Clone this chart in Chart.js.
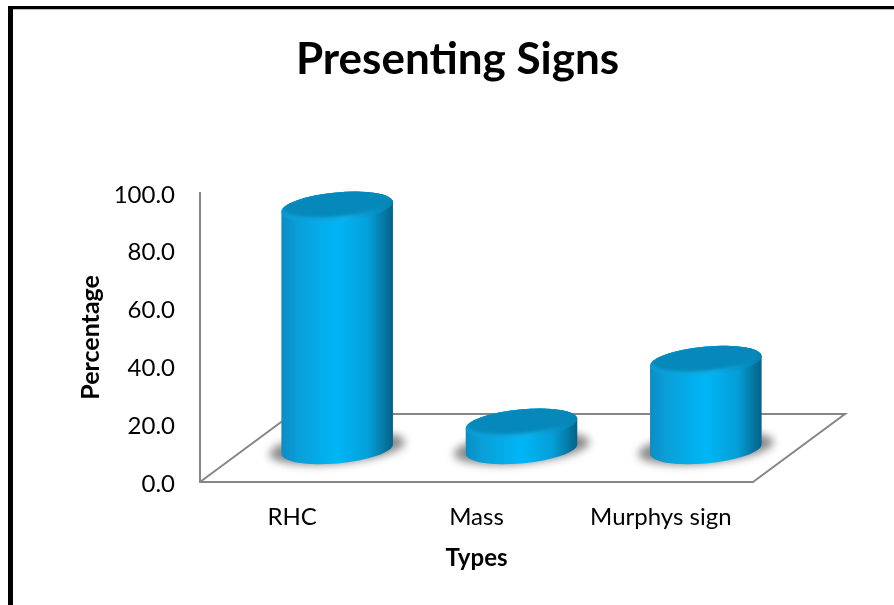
<!DOCTYPE html>
<html>
<head>
<meta charset="utf-8">
<title>Presenting Signs</title>
<script src="https://cdn.jsdelivr.net/npm/chart.js@4"></script>
<style>
  html, body { margin: 0; padding: 0; background: #fff; }
  #frame {
    position: absolute; left: 8px; top: 6px; right: 0; bottom: 0;
    border-left: 5px solid #000; border-top: 3px solid #000;
    box-shadow: inset 0 1px 0 #bbb;
  }
  #chart { position: absolute; left: 0; top: 0; }
</style>
</head>
<body>
<div id="frame"></div>
<canvas id="chart" width="894" height="605"></canvas>
<script>
const categories = ['RHC', 'Mass', 'Murphys sign'];
const percentages = [83.7, 8.7, 30.4];
const yTicks = [0, 20, 40, 60, 80, 100];

const AXIS_COLOR = '#868686';
const FONT = 'Lato, "Open Sans", sans-serif';

// Floor depth of the pseudo-3D plot, in pixels
const FLOOR_DX = 92;
const FLOOR_DY = 68;
// Where a cylinder's base sits relative to its category tick
const BASE_DX = 45;
const BASE_DY = 33;

const ELLIPSE_RY = 14.5;
const ELLIPSE_ROT = -5.3 * Math.PI / 180;
const TANGENT = 0.0225;

function ellipsePath(ctx, cx, cy, rx, ry) {
  ctx.beginPath();
  ctx.ellipse(cx, cy, rx, ry, ELLIPSE_ROT, 0, Math.PI * 2);
}

function drawShadow(ctx, cx, baseY, rx) {
  ctx.save();
  ctx.filter = 'blur(4px)';
  ctx.fillStyle = '#8a8a8a';
  ellipsePath(ctx, cx, baseY - 1, rx + 11, ELLIPSE_RY + 1);
  ctx.fill();
  ctx.restore();
}

function drawCylinder(ctx, cx, topY, baseY, rx) {
  // Body, shaded from side to side
  const side = ctx.createLinearGradient(cx - rx, 0, cx + rx, 0);
  side.addColorStop(0, '#0c8cc2');
  side.addColorStop(0.15, '#0a9fd9');
  side.addColorStop(0.5, '#00b6f7');
  side.addColorStop(0.78, '#049fd8');
  side.addColorStop(0.93, '#05759f');
  side.addColorStop(1, '#05628a');
  ctx.fillStyle = side;
  ctx.beginPath();
  ctx.ellipse(cx, baseY, rx, ELLIPSE_RY, ELLIPSE_ROT, TANGENT, Math.PI + TANGENT);
  ctx.ellipse(cx, topY, rx, ELLIPSE_RY, ELLIPSE_ROT, Math.PI + TANGENT, TANGENT);
  ctx.closePath();
  ctx.fill();

  // Cap with a bevelled rim
  const rim = ctx.createLinearGradient(cx - rx, 0, cx + rx, 0);
  rim.addColorStop(0, '#0a9ad4');
  rim.addColorStop(0.55, '#0cb0ec');
  rim.addColorStop(1, '#0680ae');
  ctx.save();
  ellipsePath(ctx, cx, topY, rx, ELLIPSE_RY);
  ctx.fillStyle = rim;
  ctx.fill();
  ctx.clip();
  ctx.filter = 'blur(1.5px)';
  ctx.fillStyle = '#0689ba';
  ellipsePath(ctx, cx, topY - 3.5, rx - 1.5, ELLIPSE_RY - 1.5);
  ctx.fill();
  ctx.restore();
}

const cylinderPlugin = {
  id: 'cylinders',
  beforeDatasetsDraw(chart) {
    const { ctx, chartArea: area } = chart;
    ctx.save();
    ctx.strokeStyle = AXIS_COLOR;
    ctx.lineWidth = 2;
    ctx.beginPath();
    ctx.moveTo(area.left, area.bottom);
    ctx.lineTo(area.left + FLOOR_DX, area.bottom - FLOOR_DY);
    ctx.lineTo(area.right + FLOOR_DX, area.bottom - FLOOR_DY);
    ctx.lineTo(area.right, area.bottom);
    ctx.stroke();
    ctx.restore();
  },
  afterDatasetsDraw(chart) {
    const { ctx } = chart;
    const bars = chart.getDatasetMeta(0).data;
    bars.forEach(bar => drawShadow(ctx, bar.x + BASE_DX, bar.base - BASE_DY, bar.width / 2 + 1));
    bars.forEach(bar => {
      drawCylinder(ctx, bar.x + BASE_DX, bar.y - BASE_DY, bar.base - BASE_DY, bar.width / 2);
    });
  }
};

new Chart(document.getElementById('chart'), {
  type: 'bar',
  data: {
    labels: categories,
    datasets: [{
      label: 'Percentage',
      data: percentages,
      backgroundColor: 'transparent',
      barThickness: 112,
      yAxisID: 'y'
    }]
  },
  options: {
    responsive: false,
    animation: false,
    layout: { padding: { left: 21 } },
    plugins: {
      legend: { display: false },
      tooltip: { enabled: false },
      title: {
        display: true,
        text: 'Presenting Signs',
        color: '#000',
        font: { family: FONT, size: 44, weight: 'bold' },
        padding: { top: 33, bottom: 107 }
      }
    },
    scales: {
      x: {
        afterFit: scale => { scale.height = 123; },
        grid: { display: false, drawTicks: false },
        border: { color: AXIS_COLOR, width: 2 },
        ticks: { color: '#000', padding: 21, font: { family: FONT, size: 24 } },
        title: {
          display: true,
          text: 'Types',
          color: '#000',
          font: { family: FONT, size: 24, weight: 'bold' },
          padding: { top: 10, bottom: 32 }
        }
      },
      y: {
        min: 0,
        max: 100,
        afterFit: scale => { scale.width = 179; },
        afterBuildTicks: scale => { scale.ticks = yTicks.map(value => ({ value })); },
        grid: { display: false, drawTicks: false },
        border: { color: AXIS_COLOR, width: 2 },
        ticks: {
          color: '#000',
          padding: 25,
          labelOffset: 2,
          font: { family: FONT, size: 24 },
          callback: value => value.toFixed(1)
        },
        title: {
          display: true,
          text: 'Percentage',
          color: '#000',
          font: { family: FONT, size: 25, weight: 'bold' },
          padding: { top: 55, bottom: 0 }
        }
      },
      // Empty axis on the right reserves the space taken by the floor's depth
      spacer: {
        position: 'right',
        afterFit: scale => { scale.width = 141; },
        grid: { display: false, drawTicks: false },
        border: { display: false },
        ticks: { display: false }
      }
    }
  },
  plugins: [cylinderPlugin]
});
</script>
</body>
</html>
